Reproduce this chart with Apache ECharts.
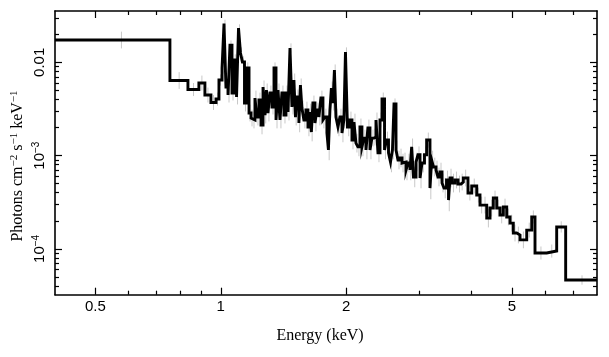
<!DOCTYPE html>
<html><head><meta charset="utf-8">
<script src="https://cdn.jsdelivr.net/npm/echarts@6/dist/echarts.min.js"></script>
<style>html,body{margin:0;padding:0;background:#fff}#c{width:609px;height:357px}</style>
</head><body><div id="c"></div>
<script>
// Bin left edges (keV), last entry is the right edge of the last bin
const binEdges = [0.4, 0.755, 0.834, 0.886, 0.916, 0.947, 0.974, 0.990, 1.007, 1.018,
  1.029, 1.041, 1.052, 1.064, 1.076, 1.091, 1.103, 1.115, 1.127, 1.140,
  1.153, 1.169, 1.182, 1.195, 1.208, 1.221, 1.235, 1.249, 1.263, 1.277,
  1.287, 1.298, 1.312, 1.327, 1.342, 1.357, 1.372, 1.387, 1.402, 1.418,
  1.434, 1.450, 1.466, 1.482, 1.498, 1.511, 1.523, 1.540, 1.553, 1.566,
  1.583, 1.601, 1.619, 1.637, 1.650, 1.664, 1.683, 1.701, 1.720, 1.739,
  1.759, 1.778, 1.798, 1.813, 1.828, 1.843, 1.859, 1.874, 1.890, 1.911,
  1.932, 1.954, 1.975, 1.992, 2.014, 2.042, 2.065, 2.088, 2.111, 2.134,
  2.158, 2.182, 2.206, 2.231, 2.255, 2.281, 2.306, 2.332, 2.358, 2.384,
  2.411, 2.438, 2.472, 2.499, 2.527, 2.555, 2.583, 2.605, 2.634, 2.663,
  2.693, 2.723, 2.753, 2.784, 2.814, 2.846, 2.872, 2.901, 2.942, 2.974,
  3.008, 3.041, 3.083, 3.120, 3.178, 3.208, 3.241, 3.286, 3.322, 3.359,
  3.397, 3.434, 3.482, 3.521, 3.550, 3.590, 3.650, 3.711, 3.773, 3.821,
  3.921, 4.003, 4.115, 4.190, 4.267, 4.349, 4.429, 4.510, 4.596, 4.681,
  4.767, 4.857, 4.947, 5.037, 5.133, 5.228, 5.425, 5.577, 5.679, 6.058,
  6.402, 6.728, 8.0];

// Flux per bin (photons cm^-2 s^-1 keV^-1)
const fluxValues = [0.01734, 0.00638, 0.00511, 0.00600, 0.00446, 0.00371, 0.00404, 0.00646, 0.00869, 0.0261,
  0.00544, 0.00446, 0.0153, 0.00469, 0.0106, 0.00425, 0.0233, 0.0126, 0.0101, 0.00366,
  0.00869, 0.00286, 0.00253, 0.00241, 0.00414, 0.00259, 0.00394, 0.00213, 0.00544, 0.00272,
  0.00505, 0.00286, 0.00469, 0.00332, 0.00869, 0.00241, 0.00505, 0.00241, 0.00469, 0.00272,
  0.00469, 0.00293, 0.01424, 0.00332, 0.00646, 0.00259, 0.00425, 0.00224, 0.00571, 0.00324,
  0.00241, 0.00308, 0.00203, 0.00293, 0.00179, 0.00366, 0.00224, 0.00308, 0.00259, 0.00414,
  0.00241, 0.00259, 0.00175, 0.00115, 0.00308, 0.00530, 0.00366, 0.00827, 0.00259, 0.00203,
  0.00259, 0.00175, 0.00241, 0.01289, 0.00203, 0.00241, 0.00147, 0.00229, 0.00136, 0.00124,
  0.00203, 0.00124, 0.00154, 0.00115, 0.00198, 0.00115, 0.00154, 0.00158, 0.00241, 0.00107,
  0.00241, 0.00404, 0.00115, 0.00147, 0.00107, 0.000854, 0.00115, 0.00357, 0.00115, 0.000897,
  0.000943, 0.000833, 0.000854, 0.000701, 0.000833, 0.000701, 0.00124, 0.000590, 0.000854, 0.00102,
  0.000575, 0.000833, 0.00102, 0.00147, 0.000449, 0.000897, 0.000755, 0.000701, 0.000590, 0.000667,
  0.000508, 0.000449, 0.000548, 0.000334, 0.000575, 0.000508, 0.000548, 0.000496, 0.000521, 0.000575,
  0.000397, 0.000472, 0.000378, 0.000295, 0.000295, 0.000214, 0.000274, 0.000351, 0.000274, 0.000231,
  0.000281, 0.000220, 0.000189, 0.000148, 0.000141, 0.000125, 0.000159, 0.000220, 0.0000904, 0.0000949,
  0.000172, 0.0000464];

// Half-length of each error bar, in decades (read from the grey whiskers)
const errDex = [0.09,0.09,0.07,0.08,0.08,0.08,0.07,0.06,0.06,0.04,
  0.08,0.08,0.05,0.08,0.06,0.08,0.04,0.06,0.06,0.09,
  0.06,0.09,0.09,0.09,0.08,0.09,0.08,0.10,0.07,0.09,
  0.07,0.09,0.08,0.08,0.06,0.09,0.07,0.09,0.08,0.09,
  0.08,0.09,0.05,0.08,0.07,0.09,0.08,0.10,0.07,0.08,
  0.09,0.09,0.10,0.09,0.10,0.08,0.09,0.08,0.09,0.08,
  0.09,0.09,0.10,0.11,0.08,0.07,0.08,0.06,0.09,0.10,
  0.09,0.10,0.09,0.05,0.10,0.09,0.10,0.09,0.10,0.10,
  0.09,0.10,0.09,0.10,0.09,0.10,0.09,0.09,0.08,0.10,
  0.08,0.07,0.10,0.09,0.10,0.11,0.10,0.06,0.10,0.10,
  0.10,0.10,0.10,0.11,0.10,0.11,0.09,0.11,0.10,0.09,
  0.11,0.10,0.09,0.08,0.12,0.10,0.10,0.10,0.10,0.10,
  0.10,0.11,0.10,0.12,0.10,0.10,0.09,0.09,0.09,0.09,
  0.08,0.08,0.08,0.09,0.09,0.10,0.09,0.08,0.09,0.09,
  0.09,0.09,0.09,0.09,0.09,0.09,0.08,0.07,0.07,0.07,
  0.06,0.05];

const xRange = [0.4, 8];
const yRange = [3.23e-5, 0.0355];
const xMajorTicks = [0.5, 1, 2, 5];
const xMinorTicks = [0.6, 0.7, 0.8, 0.9, 3, 4, 6, 7];
const yMajorTicks = [1e-4, 1e-3, 1e-2];
const yMinorTicks = [4e-5, 5e-5, 6e-5, 7e-5, 8e-5, 9e-5,
  2e-4, 3e-4, 4e-4, 5e-4, 6e-4, 7e-4, 8e-4, 9e-4,
  2e-3, 3e-3, 4e-3, 5e-3, 6e-3, 7e-3, 8e-3, 9e-3, 0.02, 0.03];
const xTitle = 'Energy (keV)';
const yTitleParts = ['Photons cm', '−2', ' s', '−1', ' keV', '−1'];

const SANS = '"Liberation Sans", Arial, Helvetica, sans-serif';
const SERIF = '"Liberation Serif", "Times New Roman", serif';

const nBins = Math.min(fluxValues.length, binEdges.length - 1);
const stepData = [];
for (let i = 0; i < nBins; i++) stepData.push([binEdges[i], fluxValues[i]]);
stepData.push([binEdges[nBins], fluxValues[nBins - 1]]);

const errData = [];
for (let i = 0; i < nBins; i++) {
  const c = (binEdges[i] + binEdges[i + 1]) / 2;
  const e = errDex[i] !== undefined ? errDex[i] : 0.08;
  errData.push([c, fluxValues[i] * Math.pow(10, -e), fluxValues[i] * Math.pow(10, e)]);
}

function xAxisDef(pos, major, showLine) {
  return {
    type: 'log', logBase: 10, gridIndex: 0, position: pos,
    min: xRange[0], max: xRange[1],
    axisLine: { show: showLine, onZero: false, lineStyle: { color: '#000', width: 1.6 } },
    axisTick: { show: true, inside: true, length: major ? 7 : 4,
      customValues: major ? xMajorTicks : xMinorTicks,
      lineStyle: { color: '#000', width: 1.2 } },
    axisLabel: (pos === 'bottom' && major) ? {
      show: true, customValues: xMajorTicks, margin: 5,
      fontSize: 15, fontFamily: SANS, color: '#000',
      formatter: v => String(Math.round(v * 10) / 10)
    } : { show: false },
    splitLine: { show: false }, minorTick: { show: false }, minorSplitLine: { show: false }
  };
}
function yAxisDef(pos, major, showLine) {
  return {
    type: 'log', logBase: 10, gridIndex: 0, position: pos,
    min: yRange[0], max: yRange[1],
    axisLine: { show: showLine, onZero: false, lineStyle: { color: '#000', width: 1.6 } },
    axisTick: { show: true, inside: true, length: major ? 7 : 4,
      customValues: major ? yMajorTicks : yMinorTicks,
      lineStyle: { color: '#000', width: 1.2 } },
    axisLabel: (pos === 'left' && major) ? {
      show: true, customValues: yMajorTicks, margin: 6, rotate: 90,
      fontSize: 15, fontFamily: SANS, color: '#000',
      formatter: v => {
        const e = Math.round(Math.log10(v));
        if (e === -2) return '{b|0.01}';
        return '{b|10}{s|−' + (-e) + '}';
      },
      rich: {
        b: { fontSize: 15, fontFamily: SANS, color: '#000', lineHeight: 18 },
        s: { fontSize: 10, fontFamily: SANS, color: '#000', lineHeight: 10, verticalAlign: 'top' }
      }
    } : { show: false },
    splitLine: { show: false }, minorTick: { show: false }, minorSplitLine: { show: false }
  };
}

const chart = echarts.init(document.getElementById('c'), null, { renderer: 'canvas' });
chart.setOption({
  animation: false,
  backgroundColor: '#fff',
  grid: { left: 55, right: 12, top: 11, bottom: 62.3, containLabel: false, outerBoundsMode: 'none' },
  xAxis: [xAxisDef('bottom', true, true), xAxisDef('bottom', false, false),
          xAxisDef('top', true, true), xAxisDef('top', false, false)],
  yAxis: [yAxisDef('left', true, true), yAxisDef('left', false, false),
          yAxisDef('right', true, true), yAxisDef('right', false, false)],
  graphic: [
    { type: 'text', x: 320, y: 336,
      style: { text: xTitle, fontSize: 16, fontFamily: SERIF, fill: '#000', align: 'center', verticalAlign: 'middle' } },
    { type: 'text', x: 18, y: 166, rotation: Math.PI / 2,
      style: {
        text: '{a|' + yTitleParts[0] + '}{s|' + yTitleParts[1] + '}{a|' + yTitleParts[2] + '}{s|' + yTitleParts[3] + '}{a|' + yTitleParts[4] + '}{s|' + yTitleParts[5] + '}',
        align: 'center', verticalAlign: 'middle', fill: '#000',
        rich: {
          a: { fontSize: 16, fontFamily: SERIF, fill: '#000', lineHeight: 18 },
          s: { fontSize: 11, fontFamily: SERIF, fill: '#000', lineHeight: 10, verticalAlign: 'top' }
        }
      } }
  ],
  series: [
    {
      type: 'custom', xAxisIndex: 0, yAxisIndex: 0, z: 1, clip: true,
      data: errData,
      encode: { x: 0, y: [1, 2] },
      renderItem: (params, api) => {
        const x = api.value(0);
        const p1 = api.coord([x, api.value(1)]);
        const p2 = api.coord([x, api.value(2)]);
        return { type: 'line', shape: { x1: p1[0], y1: p1[1], x2: p2[0], y2: p2[1] },
          style: { stroke: '#c8c8c8', lineWidth: 1 } };
      }
    },
    {
      type: 'line', xAxisIndex: 0, yAxisIndex: 0, z: 3,
      data: stepData, step: 'end', symbol: 'none', clip: true,
      lineStyle: { color: '#000', width: 2.9, join: 'miter', cap: 'butt' }
    }
  ]
});
</script></body></html>
